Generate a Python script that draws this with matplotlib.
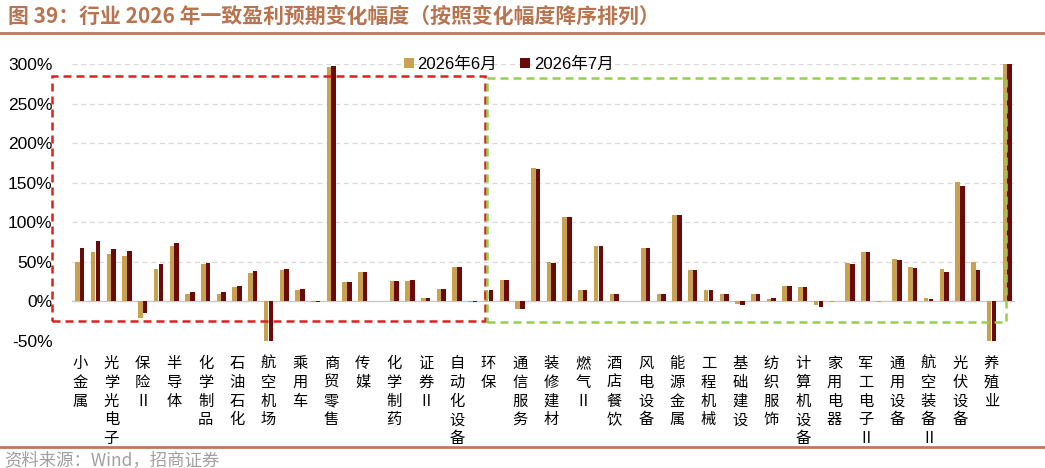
import numpy as np
import matplotlib
matplotlib.use("Agg")
import matplotlib.pyplot as plt
from matplotlib.lines import Line2D
from matplotlib.patches import Rectangle

plt.rcParams['font.family'] = ['Liberation Sans', 'Noto Sans CJK SC', 'DejaVu Sans']

# 60 industries, only every other one is labelled in the original chart
shown_labels = ['小金属', '光学光电子', '保险Ⅱ', '半导体', '化学制品', '石油石化',
                '航空机场', '乘用车', '商贸零售', '传媒', '化学制药', '证券Ⅱ',
                '自动化设备', '环保', '通信服务', '装修建材', '燃气Ⅱ', '酒店餐饮',
                '风电设备', '能源金属', '工程机械', '基础建设', '纺织服饰',
                '计算机设备', '家用电器', '军工电子Ⅱ', '通用设备', '航空装备Ⅱ',
                '光伏设备', '养殖业']

# % change of 2026 consensus earnings forecast
jun = [50, 63, 60, 58, -21, 41, 70, 9, 47, 10,
       18, 36, -55, 40, 15, -1, 296, 24, 37, 0,
       26, 26, 4, 15.5, 44, -1, 14, 27, -10, 169,
       50, 107, 15, 70, 10, 0, 68, 10, 110, 40,
       15, 10, -3, 10, 3.5, 19, 18, -4, -0.5, 49,
       63, -0.5, 54, 44, 5, 41, 151, 50, -55, 320]
jul = [68, 76, 67, 64, -15, 47, 74, 12, 49, 12,
       20, 38, -55, 41, 16, -1, 298, 25, 37, 0,
       26, 27, 5, 16, 44, -1, 15, 27, -10, 168,
       49, 107, 15, 70, 10, 0, 68, 10, 109, 40,
       15, 10, -4, 10, 4, 19, 18, -7, 0, 48,
       62, 0, 52, 42, 3, 37.5, 146.5, 40, -55, 320]

gold = '#C8A24E'
dark = '#6B0A0A'
brown = '#C0785A'

x = np.arange(len(jun))
w = 0.29

fig = plt.figure(figsize=(10.45, 4.68), dpi=100)
ax = fig.add_axes([72/1045, 1-341/468, 943/1045, (341-64.3)/468])

ax.bar(x - 0.15, jun, w, color=gold, label='2026年6月', zorder=3)
ax.bar(x + 0.15, jul, w, color=dark, label='2026年7月', zorder=3)

ax.set_xlim(-0.5, len(jun) - 0.5)
ax.set_ylim(-50, 300)
ax.set_yticks(np.arange(-50, 301, 50))
ax.set_yticklabels(['%d%%' % v for v in range(-50, 301, 50)], fontsize=12.5)
ax.tick_params(axis='y', length=0, pad=14)
for v in range(-50, 301, 50):
    if v != 0:
        ax.axhline(v, color='#D9D9D9', lw=0.9, ls=(0, (4, 3)), zorder=1)
ax.axhline(0, color='#C8C8C8', lw=1.0, zorder=2)

ax.set_xticks(x[::2])
ax.set_xticklabels(['\n'.join(s) for s in shown_labels],
                   family=['Noto Sans CJK SC'], fontsize=11, linespacing=1.14,
                   va='top')
ax.tick_params(axis='x', length=0, pad=10)
for s in ax.spines.values():
    s.set_visible(False)

# dashed group boxes
ax.add_patch(Rectangle((-1.78, -24.5), 27.54, 310, fill=False, ec='#E02020',
                       lw=1.8, ls=(0, (3.2, 2)), clip_on=False, zorder=5))
ax.add_patch(Rectangle((25.9, -25.7), 33.0, 309, fill=False, ec='#92D050',
                       lw=1.8, ls=(0, (3.2, 2)), clip_on=False, zorder=5))

ax.legend(loc='center left', bbox_to_anchor=(0.352, 1.0), ncol=2, frameon=False,
          fontsize=12, handlelength=0.6, handleheight=0.6, handletextpad=0.2,
          columnspacing=1.4, borderaxespad=0, borderpad=0)

fig.text(0.008, 1-16/468, '图 39：行业 2026 年一致盈利预期变化幅度（按照变化幅度降序排列）',
         family=['Noto Sans CJK SC'], fontsize=15, fontweight='bold',
         color='#B8734F', va='center', ha='left')
fig.add_artist(Line2D([0, 1], [1-33/468]*2, color=brown, lw=2))
fig.add_artist(Line2D([0, 1], [1-447/468]*2, color=brown, lw=2))
fig.text(0.004, 1-460/468, '资料来源：Wind，招商证券', family=['Noto Sans CJK SC'],
         fontsize=12.5, color='#A0A0A0', va='center', ha='left')

fig.savefig('out.png', dpi=100)
